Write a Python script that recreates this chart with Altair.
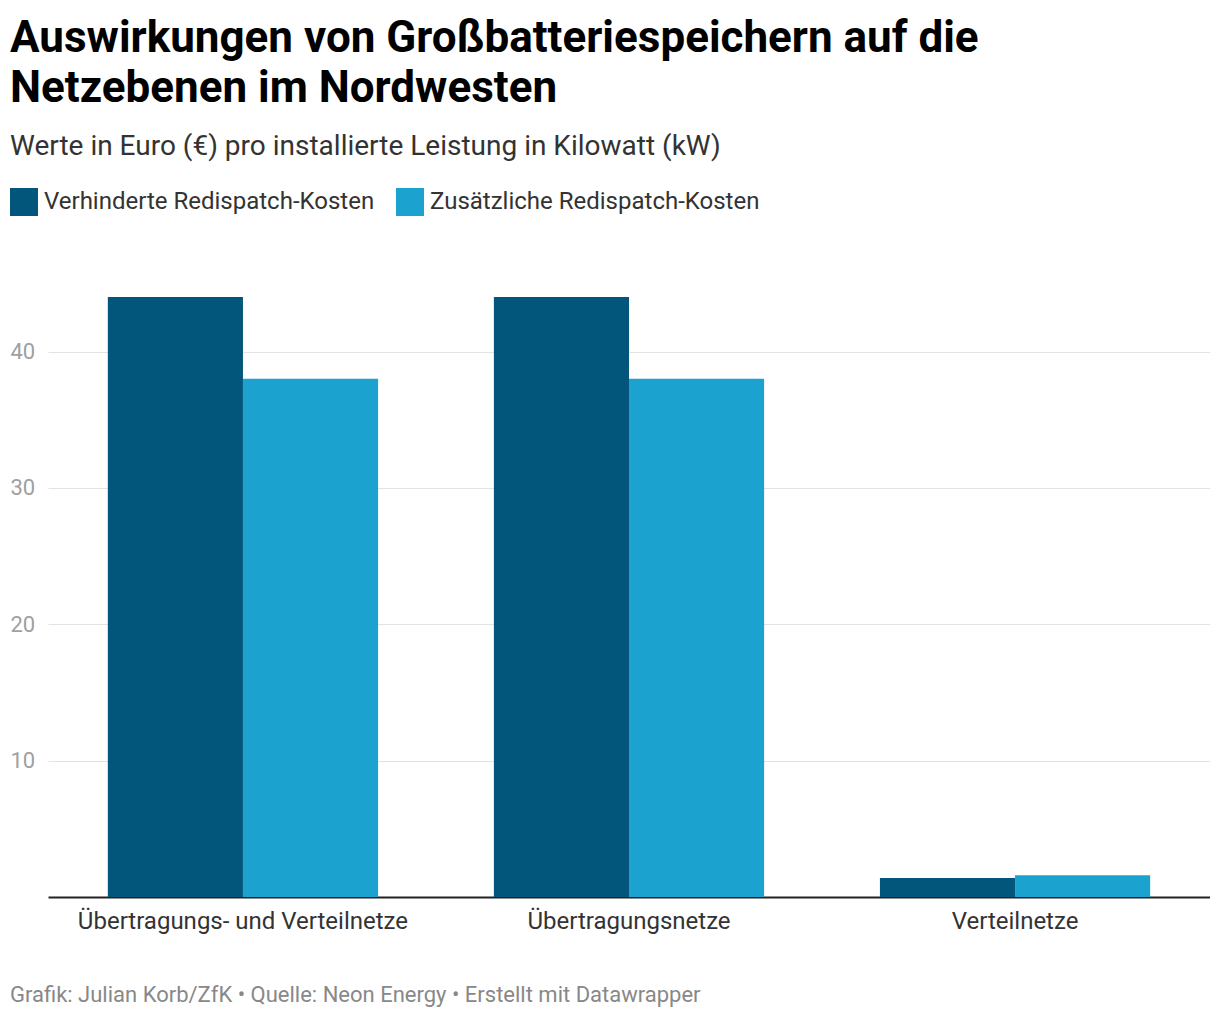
import altair as alt
import pandas as pd

categories = ["Übertragungs- und Verteilnetze", "Übertragungsnetze", "Verteilnetze"]
series = ["Verhinderte Redispatch-Kosten", "Zusätzliche Redispatch-Kosten"]
verhindert = [44, 44, 1.4]
zusaetzlich = [38, 38, 1.6]
colors = ["#02557b", "#1ba2ce"]
y_ticks = [10, 20, 30, 40]

rows = []
for c, a, b in zip(categories, verhindert, zusaetzlich):
    rows.append({"Netzebene": c, "Reihe": series[0], "Wert": a})
    rows.append({"Netzebene": c, "Reihe": series[1], "Wert": b})
df = pd.DataFrame(rows)

bars = alt.Chart(df).mark_bar().encode(
    x=alt.X("Netzebene:N", sort=categories,
            scale=alt.Scale(paddingInner=0.3, paddingOuter=0.155),
            axis=alt.Axis(title=None, labelAngle=0, labelFontSize=24, labelColor="#333333",
                          labelPadding=12, tickSize=0, domainColor="#222222", domainWidth=2,
                          grid=False, labelLimit=600)),
    xOffset=alt.XOffset("Reihe:N", sort=series, scale=alt.Scale(paddingInner=0, paddingOuter=0)),
    y=alt.Y("Wert:Q", scale=alt.Scale(domain=[0, 44], nice=False),
            axis=alt.Axis(title=None, values=y_ticks, labelFontSize=22, labelColor="#a0a0a0",
                          labelAlign="left", labelPadding=38, tickSize=0, domain=False,
                          gridColor="#e3e3e3", gridWidth=1)),
    color=alt.Color("Reihe:N", sort=series,
                    scale=alt.Scale(domain=series, range=colors),
                    legend=alt.Legend(title=None, orient="none", legendX=-38, legendY=-109,
                                      direction="horizontal", columns=2, symbolType="square",
                                      symbolSize=784, symbolStrokeWidth=0, labelFontSize=24,
                                      labelColor="#333333", labelOffset=6, columnPadding=21,
                                      labelLimit=600)),
)

footer_df = pd.DataFrame({"t": ["Grafik: Julian Korb/ZfK • Quelle: Neon Energy • Erstellt mit Datawrapper"]})
footer = alt.Chart(footer_df).mark_text(align="left", baseline="middle", fontSize=22,
                                        color="#888888", font="Roboto").encode(
    text="t:N", x=alt.value(-38), y=alt.value(698))

chart = alt.layer(bars, footer).properties(
    width=1162, height=600,
    autosize=alt.AutoSizeParams(type="none"),
    padding={"left": 40, "top": 289, "right": 0, "bottom": 113},
    title=alt.TitleParams(
        text=["Auswirkungen von Großbatteriespeichern auf die", "Netzebenen im Nordwesten"],
        subtitle="Werte in Euro (€) pro installierte Leistung in Kilowatt (kW)",
        anchor="start", frame="group", dx=-38, fontSize=44, fontWeight="bold",
        lineHeight=50, color="#000000", subtitleFontSize=28, subtitleColor="#333333",
        subtitlePadding=22, offset=27, font="Roboto", subtitleFont="Roboto"),
).configure(font="Roboto").configure_view(stroke=None)

chart.save("out.html", embed_options={"renderer": "svg", "actions": False})
